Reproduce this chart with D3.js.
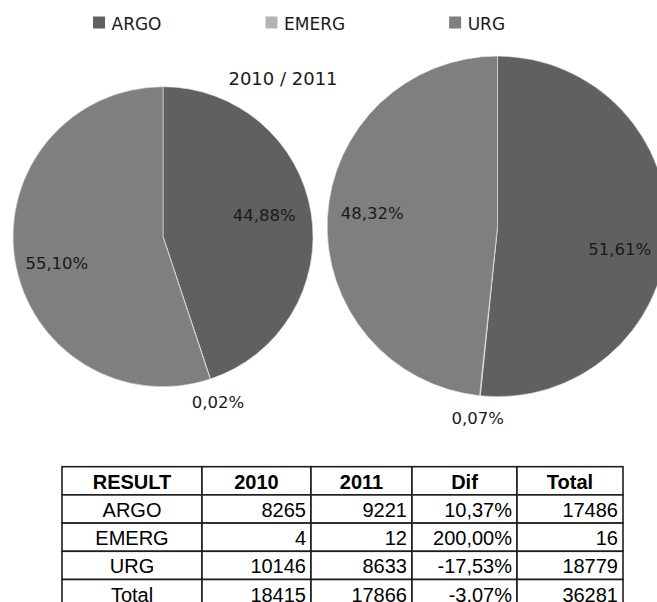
<!DOCTYPE html>
<html>
<head>
<meta charset="utf-8" />
<title>2010 / 2011</title>
<script src="https://d3js.org/d3.v7.min.js"></script>
<style>
  body { margin: 0; background: #fff; }
  svg { display: block; }
</style>
</head>
<body>
<svg id="chart" width="657" height="602"></svg>
<script>
// data
var categories = ["ARGO", "EMERG", "URG"];
var colors = ["#606060", "#b3b3b3", "#7f7f7f"];
var title = "2010 / 2011";

var tableHeader = ["RESULT", "2010", "2011", "Dif", "Total"];
var rowLabels = ["ARGO", "EMERG", "URG", "Total"];
var col2010 = [8265, 4, 10146, 18415];
var col2011 = [9221, 12, 8633, 17866];
var colDif = ["10,37%", "200,00%", "-17,53%", "-3,07%"];
var colTotal = [17486, 16, 18779, 36281];

var svg = d3.select("#chart");
var fontMain = "'DejaVu Sans', Verdana, sans-serif";

// comma decimal
var locale = d3.formatLocale({decimal: ",", thousands: ".", grouping: [3], currency: ["", ""]});
var fmtPct = locale.format(".2%");

// legend - items laid out one after another
var legend = svg.append("g").attr("class", "legend");
var lx = 93;
categories.forEach(function(c, i) {
  var g = legend.append("g").attr("transform", "translate(" + lx + ",0)");
  g.append("rect").attr("x", 0).attr("y", 16.5).attr("width", 12).attr("height", 12)
    .attr("fill", colors[i]);
  var t = g.append("text").attr("x", 18.5).attr("y", 30)
    .attr("font-family", fontMain).attr("font-size", 17).attr("fill", "#1a1a1a")
    .text(c);
  lx += 18.5 + t.node().getComputedTextLength() + 104;
});

svg.append("text").attr("x", 283).attr("y", 85).attr("text-anchor", "middle")
  .attr("font-family", fontMain).attr("font-size", 18).attr("fill", "#1a1a1a")
  .text(title);

// pies
// labelK = label distance as part of radius, labelTurn = small nudge (deg) like excel's placement
var pie = d3.pie().sort(null).value(function(d) { return d.v; });
var pies = [
  {vals: col2010.slice(0, 3), cx: 163, cy: 236.7, r: 150,
   labelK: [0.69, 1.16, 0.73], labelTurn: [-3, 0, -5]},
  {vals: col2011.slice(0, 3), cx: 497.5, cy: 226.4, r: 170.3,
   labelK: [0.73, 1.13, 0.74], labelTurn: [7.4, 0, 3]}
];

pies.forEach(function(p) {
  var data = categories.map(function(c, i) { return {cat: c, v: p.vals[i], i: i}; });
  var sum = d3.sum(data, function(d) { return d.v; });
  var arcs = pie(data);
  var arc = d3.arc().innerRadius(0).outerRadius(p.r);

  var g = svg.append("g").attr("transform", "translate(" + p.cx + "," + p.cy + ")");
  g.selectAll("path").data(arcs).enter().append("path")
    .attr("d", arc)
    .attr("fill", function(d) { return colors[d.data.i]; })
    .attr("stroke", "#e6e6e6").attr("stroke-width", 0.6);

  g.selectAll("text").data(arcs).enter().append("text")
    .attr("transform", function(d) {
      var k = p.labelK[d.data.i] * p.r;
      var mid = (d.startAngle + d.endAngle) / 2 + p.labelTurn[d.data.i] * Math.PI / 180;
      var lab = d3.arc().innerRadius(k).outerRadius(k);
      return "translate(" + lab.centroid({startAngle: mid, endAngle: mid}) + ")";
    })
    .attr("dy", "0.36em")
    .attr("text-anchor", "middle")
    .attr("font-family", fontMain).attr("font-size", 16.5).attr("fill", "#1a1a1a")
    .text(function(d) { return fmtPct(d.data.v / sum); });
});

// table
var colWidths = [140, 109, 101, 105, 106];
var colEdges = [62];
colWidths.forEach(function(w, i) { colEdges.push(colEdges[i] + w); });
var rowsAll = [tableHeader].concat(rowLabels.map(function(r, i) {
  return [r, col2010[i], col2011[i], colDif[i], colTotal[i]];
}));
var y = d3.scaleBand().domain(d3.range(rowsAll.length)).range([466.7, 466.7 + 28.2 * rowsAll.length]);

var table = svg.append("g").attr("class", "table");
rowsAll.forEach(function(row, ri) {
  row.forEach(function(cell, ci) {
    var x0 = colEdges[ci], x1 = colEdges[ci + 1];
    table.append("rect")
      .attr("x", x0).attr("y", y(ri)).attr("width", x1 - x0).attr("height", y.bandwidth())
      .attr("fill", "#fff").attr("stroke", "#1e1e1e").attr("stroke-width", 1.6);
    var centered = ri === 0 || ci === 0;
    table.append("text")
      .attr("x", centered ? (x0 + x1) / 2 : x1 - 5)
      .attr("y", y(ri) + y.bandwidth() - 6.2)
      .attr("text-anchor", centered ? "middle" : "end")
      .attr("font-family", "'Liberation Sans', Arial, sans-serif")
      .attr("font-size", 20)
      .attr("font-weight", ri === 0 ? "bold" : "normal")
      .attr("fill", "#000")
      .text(cell);
  });
});
</script>
</body>
</html>
